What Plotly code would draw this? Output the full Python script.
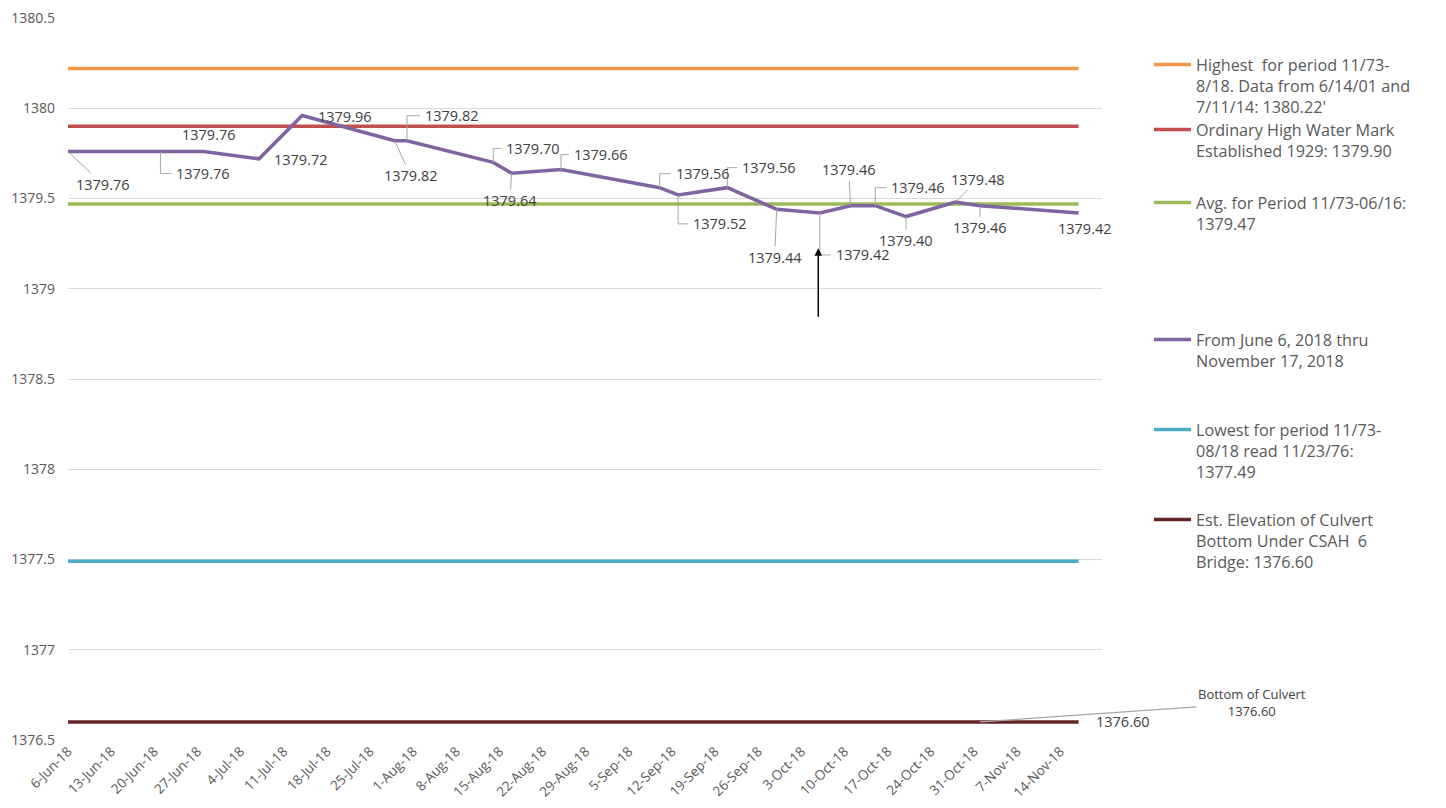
import plotly.graph_objects as go

# ---------------- data ----------------
dates = ["2018-06-06", "2018-06-21", "2018-06-28", "2018-07-07", "2018-07-14",
         "2018-07-29", "2018-07-31", "2018-08-14", "2018-08-17", "2018-08-25",
         "2018-09-10", "2018-09-13", "2018-09-21", "2018-09-29", "2018-10-06",
         "2018-10-11", "2018-10-15", "2018-10-20", "2018-10-28", "2018-11-01",
         "2018-11-17"]
levels = [1379.76, 1379.76, 1379.76, 1379.72, 1379.96, 1379.82, 1379.82, 1379.70,
          1379.64, 1379.66, 1379.56, 1379.52, 1379.56, 1379.44, 1379.42, 1379.46,
          1379.46, 1379.40, 1379.48, 1379.46, 1379.42]

span = ["2018-06-06", "2018-11-17"]
highest = 1380.22
ohwm = 1379.90
average = 1379.47
lowest = 1377.49
culvert = 1376.60

arrow_date = "2018-10-05 18:00"
arrow_level = 1379.224
culvert_label_date = "2018-11-01"

names = {
    "highest": "Highest\u00a0 for period 11/73-<br>8/18. Data from 6/14/01 and<br>7/11/14: 1380.22'",
    "ohwm": "Ordinary High Water Mark<br>Established 1929: 1379.90",
    "avg": "Avg. for Period 11/73-06/16:<br>1379.47",
    "series": "From June 6, 2018 thru<br>November 17, 2018",
    "lowest": "Lowest for period 11/73-<br>08/18 read 11/23/76:<br>1377.49",
    "culvert": "Est. Elevation of Culvert<br>Bottom Under CSAH\u00a0 6<br>Bridge: 1376.60",
}

# ---------------- styling ----------------
# label offsets (dx, dy) in screen pixels and leader style per point
label_style = [
    (35, 33, "line"), (43, 22, "elbow"), (5, -17, "none"), (42, 1, "none"),
    (43, 1, "none"), (16, 35, "line"), (45, -25, "elbow"), (40, -14, "elbow"),
    (-2, 27, "line"), (40, -15, "elbow"), (43, -14, "elbow"), (42, 29, "elbow"),
    (42, -20, "elbow"), (-2, 48, "line"), (43, 42, "elbow"), (-2, -36, "line"),
    (43, -18, "elbow"), (0, 24, "line"), (23, -23, "line"), (0, 22, "line"),
    (6, 16, "none"),
]

FONT = "Open Sans"
TXT = "#404040"
AX = "#595959"
LEAD = "#A6A6A6"
LW = 3.5

fig = go.Figure()

ref_lines = [
    ("highest", highest, "#F79646", "legend"),
    ("ohwm", ohwm, "#C0504D", "legend2"),
    ("avg", average, "#9BBB59", "legend3"),
]
for key, val, col, lg in ref_lines:
    fig.add_trace(go.Scatter(x=span, y=[val, val], mode="lines", name=names[key],
                             line=dict(color=col, width=LW), legend=lg))

fig.add_trace(go.Scatter(x=dates, y=levels, mode="lines", name=names["series"],
                         line=dict(color="#8064A2", width=LW), legend="legend4"))

fig.add_trace(go.Scatter(x=span, y=[lowest, lowest], mode="lines", name=names["lowest"],
                         line=dict(color="#4BACC6", width=LW), legend="legend5"))
fig.add_trace(go.Scatter(x=span, y=[culvert, culvert], mode="lines", name=names["culvert"],
                         line=dict(color="#632523", width=LW), legend="legend6"))

annotations = []
shapes = []
HW = 27
for d, v, (dx, dy, kind) in zip(dates, levels, label_style):
    txt = f"{v:.2f}"
    if kind == "line":
        annotations.append(dict(x=d, y=v, text=txt, showarrow=True, arrowhead=0,
                                arrowwidth=1, arrowcolor=LEAD, ax=dx, ay=dy,
                                font=dict(family=FONT, size=14.5, color=TXT)))
    else:
        annotations.append(dict(x=d, y=v, text=txt, showarrow=False,
                                xshift=dx, yshift=-dy,
                                font=dict(family=FONT, size=14.5, color=TXT)))
        if kind == "elbow":
            hx = dx - HW - 5
            shapes.append(dict(type="path", xref="x", yref="y",
                               xsizemode="pixel", ysizemode="pixel",
                               xanchor=d, yanchor=v,
                               path=f"M0,0 L0,{-dy} L{hx},{-dy}",
                               line=dict(color=LEAD, width=1)))

# culvert end label
annotations.append(dict(x=span[1], y=culvert, text=f"{culvert:.2f}", showarrow=False,
                        xshift=44, yshift=0,
                        font=dict(family=FONT, size=14.5, color=TXT)))
# Bottom of Culvert callout
annotations.append(dict(x=culvert_label_date, y=culvert,
                        text=f"Bottom of Culvert<br>{culvert:.2f}", showarrow=True,
                        arrowhead=0, arrowwidth=1.2, arrowcolor=LEAD, ax=272, ay=-19,
                        font=dict(family=FONT, size=13, color=TXT)))
# black arrow
annotations.append(dict(x=arrow_date, y=arrow_level, text="", showarrow=True,
                        arrowhead=2, arrowsize=1, arrowwidth=1.5, arrowcolor="black",
                        ax=0, ay=70))

legend_common = dict(xref="container", yref="container", xanchor="left", yanchor="top",
                     font=dict(family=FONT, size=16.2, color=AX), valign="top",
                     itemwidth=37, bgcolor="rgba(0,0,0,0)")
leg_tops = [65, 130, 203, 340, 430, 520]
layout_legends = {}
for i, ly in enumerate(leg_tops):
    key = "legend" if i == 0 else f"legend{i+1}"
    layout_legends[key] = dict(legend_common, x=1149 / 1446, y=1 - (ly - 17.5) / 808)

fig.update_layout(
    width=1446, height=808,
    margin=dict(l=68, r=344, t=18, b=68, autoexpand=False),
    paper_bgcolor="white", plot_bgcolor="white",
    showlegend=True,
    annotations=annotations,
    shapes=shapes,
    xaxis=dict(type="date", range=["2018-06-06", "2018-11-20 19:00"],
               tick0="2018-06-06", dtick=7 * 86400000, tickformat="%-d-%b-%y",
               tickangle=-45, showgrid=False, zeroline=False, showline=False,
               ticks="", automargin=False,
               tickfont=dict(family=FONT, size=13.5, color=AX)),
    yaxis=dict(range=[1376.5, 1380.5], dtick=0.5, tick0=1376.5, showgrid=True,
               gridcolor="#D9D9D9", gridwidth=1, zeroline=False, showline=False,
               ticks="", ticklabelstandoff=12, automargin=False, tickformat=".1~f",
               tickfont=dict(family=FONT, size=14, color=AX)),
    **layout_legends,
)

fig.write_html("out.html", config={"displayModeBar": False},
               post_script="document.body.style.margin='0';")
